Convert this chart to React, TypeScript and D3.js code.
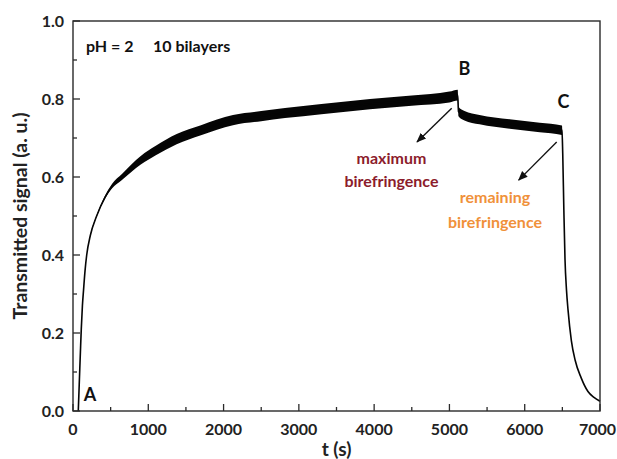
import React, { useEffect, useRef } from "react";
import * as d3 from "d3";

// signal: time (s), mean value, half-width of the noisy band
const times = [
  70, 85, 100, 110, 125, 140, 160, 182, 230, 314, 425, 520, 650, 900, 1100,
  1377, 1700, 2125, 2500, 2816, 3300, 3945, 4500, 5000, 5110, 5120, 5200, 5400,
  5800, 6200, 6495, 6505, 6520, 6535, 6555, 6575, 6620, 6670, 6750, 6840, 6920,
  7000,
];
const values = [
  0, 0.08, 0.16, 0.21, 0.27, 0.31, 0.36, 0.4, 0.45, 0.5, 0.548, 0.577, 0.6,
  0.643, 0.668, 0.697, 0.72, 0.746, 0.756, 0.764, 0.774, 0.787, 0.796, 0.805,
  0.81, 0.768, 0.757, 0.747, 0.736, 0.727, 0.72, 0.66, 0.515, 0.39, 0.31, 0.26,
  0.18, 0.13, 0.085, 0.05, 0.035, 0.025,
];
const noise = [
  0, 0, 0, 0, 0, 0, 0, 0, 0.001, 0.002, 0.004, 0.006, 0.008, 0.011, 0.012,
  0.013, 0.013, 0.013, 0.013, 0.013, 0.013, 0.013, 0.013, 0.014, 0.014, 0.012,
  0.012, 0.012, 0.012, 0.012, 0.012, 0, 0, 0, 0, 0, 0, 0, 0, 0, 0, 0,
];

const xTicks = [0, 1000, 2000, 3000, 4000, 5000, 6000, 7000];
const xMinor = [500, 1500, 2500, 3500, 4500, 5500, 6500];
const yTicks = [0, 0.2, 0.4, 0.6, 0.8, 1.0];
const yMinor = [0.1, 0.3, 0.5, 0.7, 0.9];

// annotations: [label, time, value]
const pointLabels: [string, number, number][] = [
  ["A", 226, 0.025],
  ["B", 5200, 0.862],
  ["C", 6515, 0.776],
];
// arrows: [t0, v0, t1, v1]
const arrows: [number, number, number, number][] = [
  [5030, 0.776, 4570, 0.69],
  [6425, 0.69, 5920, 0.592],
];

const W = 617;
const H = 459;
const margin = { top: 21, right: 17, bottom: 48, left: 73 };
const FONT = "Lato, 'Open Sans', sans-serif";

export default function App() {
  const svgRef = useRef<SVGSVGElement>(null);

  useEffect(() => {
    const svg = d3.select(svgRef.current);
    svg.selectAll("*").remove();

    const x = d3
      .scaleLinear()
      .domain([0, 7000])
      .range([margin.left, W - margin.right]);
    const y = d3
      .scaleLinear()
      .domain([0, 1])
      .range([H - margin.bottom, margin.top]);

    const pts = times.map((t, i) => ({ t, v: values[i], n: noise[i] }));

    // noisy band
    const band = d3
      .area<any>()
      .x((d) => x(d.t))
      .y0((d) => y(d.v - d.n))
      .y1((d) => y(d.v + d.n))
      .curve(d3.curveMonotoneX);
    svg.append("path").attr("d", band(pts)).attr("fill", "#050505");

    const line = d3
      .line<any>()
      .x((d) => x(d.t))
      .y((d) => y(d.v))
      .curve(d3.curveMonotoneX);
    svg
      .append("path")
      .attr("d", line(pts))
      .attr("fill", "none")
      .attr("stroke", "#050505")
      .attr("stroke-width", 1.6);

    // frame
    const x0 = margin.left;
    const x1 = W - margin.right;
    const y0 = H - margin.bottom;
    const y1 = margin.top;
    svg
      .append("rect")
      .attr("x", x0)
      .attr("y", y1)
      .attr("width", x1 - x0)
      .attr("height", y0 - y1)
      .attr("fill", "none")
      .attr("stroke", "#2a2a2a")
      .attr("stroke-width", 1.4);

    // ticks (inside)
    const tk = svg.append("g").attr("stroke", "#2a2a2a").attr("stroke-width", 1.3);
    xTicks.forEach((t) =>
      tk.append("line").attr("x1", x(t)).attr("x2", x(t)).attr("y1", y0).attr("y2", y0 - 7)
    );
    xMinor.forEach((t) =>
      tk.append("line").attr("x1", x(t)).attr("x2", x(t)).attr("y1", y0).attr("y2", y0 - 4)
    );
    yTicks.forEach((v) =>
      tk.append("line").attr("x1", x0).attr("x2", x0 + 7).attr("y1", y(v)).attr("y2", y(v))
    );
    yMinor.forEach((v) =>
      tk.append("line").attr("x1", x0).attr("x2", x0 + 4).attr("y1", y(v)).attr("y2", y(v))
    );

    // tick labels (last one kept inside the page)
    svg
      .selectAll("text.xt")
      .data(xTicks)
      .enter()
      .append("text")
      .attr("x", (d) => (d === 7000 ? W - 1 : x(d)))
      .attr("y", y0 + 24)
      .attr("text-anchor", (d) => (d === 7000 ? "end" : "middle"))
      .style("font", `bold 16px ${FONT}`)
      .attr("fill", "#222")
      .text((d) => String(d));
    svg
      .selectAll("text.yt")
      .data(yTicks)
      .enter()
      .append("text")
      .attr("x", x0 - 9)
      .attr("y", (d) => y(d) + 5.5)
      .attr("text-anchor", "end")
      .style("font", `bold 16px ${FONT}`)
      .attr("fill", "#222")
      .text((d) => d3.format(".1f")(d));

    // axis titles
    svg
      .append("text")
      .attr("x", (x0 + x1) / 2)
      .attr("y", 456)
      .attr("text-anchor", "middle")
      .style("font", `bold 19px ${FONT}`)
      .attr("fill", "#222")
      .text("t (s)");
    svg
      .append("text")
      .attr("transform", `translate(27,${(y0 + y1) / 2}) rotate(-90)`)
      .attr("text-anchor", "middle")
      .style("font", `bold 19.5px ${FONT}`)
      .attr("fill", "#222")
      .text("Transmitted signal (a. u.)");

    // header
    svg
      .append("text")
      .attr("x", 86)
      .attr("y", 52)
      .style("font", `bold 16px ${FONT}`)
      .attr("fill", "#111")
      .text("pH = 2");
    svg
      .append("text")
      .attr("x", 153)
      .attr("y", 52)
      .style("font", `bold 16px ${FONT}`)
      .attr("fill", "#111")
      .text("10 bilayers");

    // point labels
    pointLabels.forEach(([s, t, v]) =>
      svg
        .append("text")
        .attr("x", x(t))
        .attr("y", y(v))
        .attr("text-anchor", "middle")
        .style("font", `bold 18px ${FONT}`)
        .attr("fill", "#111")
        .text(s)
    );

    // arrows
    const defs = svg.append("defs");
    defs
      .append("marker")
      .attr("id", "arr")
      .attr("viewBox", "0 0 10 10")
      .attr("refX", 9)
      .attr("refY", 5)
      .attr("markerWidth", 7)
      .attr("markerHeight", 7)
      .attr("orient", "auto")
      .append("path")
      .attr("d", "M0,1 L10,5 L0,9 Z")
      .attr("fill", "#111");
    arrows.forEach(([ta, va, tb, vb]) =>
      svg
        .append("line")
        .attr("x1", x(ta))
        .attr("y1", y(va))
        .attr("x2", x(tb))
        .attr("y2", y(vb))
        .attr("stroke", "#111")
        .attr("stroke-width", 1.4)
        .attr("marker-end", "url(#arr)")
    );

    // notes
    const note = (s: string, t: number, v: number, c: string) =>
      svg
        .append("text")
        .attr("x", x(t))
        .attr("y", y(v))
        .attr("text-anchor", "middle")
        .style("font", `bold 16px ${FONT}`)
        .attr("fill", c)
        .text(s);
    note("maximum", 4230, 0.633, "#8c1c2c");
    note("birefringence", 4230, 0.574, "#8c1c2c");
    note("remaining", 5605, 0.533, "#f0913a");
    note("birefringence", 5605, 0.47, "#f0913a");
  }, []);

  return (
    <svg
      ref={svgRef}
      width={W}
      height={H}
      style={{ position: "absolute", left: 0, top: 0, background: "#fff" }}
    />
  );
}
